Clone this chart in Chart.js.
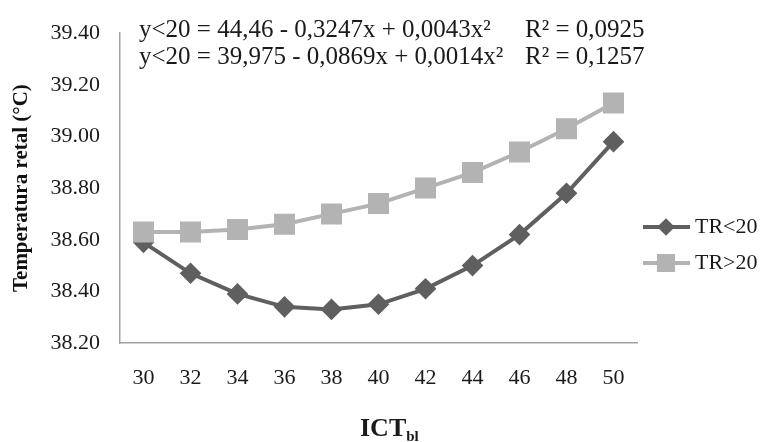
<!DOCTYPE html>
<html>
<head>
<meta charset="utf-8">
<script src="https://cdn.jsdelivr.net/npm/chart.js@4.4.0/dist/chart.umd.min.js"></script>
<style>
html, body { margin: 0; padding: 0; background: #fff; }
</style>
</head>
<body>
<canvas id="tempChart" width="763" height="442"></canvas>
<script>
// values
const categories = ['30', '32', '34', '36', '38', '40', '42', '44', '46', '48', '50'];
const trBelow20 = [38.59, 38.47, 38.39, 38.34, 38.33, 38.35, 38.41, 38.50, 38.62, 38.78, 38.98];
const trAbove20 = [38.63, 38.63, 38.64, 38.66, 38.70, 38.74, 38.80, 38.86, 38.94, 39.03, 39.13];
const seriesNames = ['TR<20', 'TR>20'];
const equations = ['y<20 = 44,46 - 0,3247x + 0,0043x²', 'y<20 = 39,975 - 0,0869x + 0,0014x²'];
const rSquared = ['R² = 0,0925', 'R² = 0,1257'];
const yTitle = 'Temperatura retal (°C)';

const serif = '"Liberation Serif", "Times New Roman", serif';
const darkGrey = '#5f5f5f';
const lightGrey = '#b3b3b3';

// equations, x title and legend (line + marker, Excel style)
const overlay = {
    id: 'overlay',
    afterDraw(chart) {
        const ctx = chart.ctx;
        ctx.save();
        ctx.fillStyle = '#1a1a1a';
        ctx.textAlign = 'left';
        ctx.textBaseline = 'alphabetic';
        ctx.font = '25px ' + serif;
        equations.forEach((eq, i) => {
            const y = 37 + i * 27;
            ctx.fillText(eq, 139, y);
            ctx.fillText(rSquared[i], 525, y);
        });

        ctx.font = 'bold 26px ' + serif;
        ctx.fillText('ICT', 360, 436);
        const w = ctx.measureText('ICT').width;
        ctx.font = 'bold 15px ' + serif;
        ctx.fillText('bl', 360 + w, 441);

        chart.data.datasets.forEach((ds, i) => {
            const y = 227 + i * 36;
            ctx.strokeStyle = ds.borderColor;
            ctx.fillStyle = ds.borderColor;
            ctx.lineWidth = 4;
            ctx.beginPath();
            ctx.moveTo(643, y);
            ctx.lineTo(690, y);
            ctx.stroke();
            Chart.helpers.drawPoint(ctx, {
                pointStyle: ds.pointStyle,
                radius: ds.pointStyle === 'rect' ? 10 : 6,
                rotation: 0,
                borderWidth: 1
            }, 666, y);
            ctx.fillStyle = '#1a1a1a';
            ctx.font = '22px ' + serif;
            ctx.textBaseline = 'middle';
            ctx.fillText(ds.label, 695, y);
            ctx.textBaseline = 'alphabetic';
        });
        ctx.restore();
    }
};

const ctx = document.getElementById('tempChart').getContext('2d');
const tempChart = new Chart(ctx, {
    type: 'line',
    data: {
        labels: categories,
        datasets: [{
            label: seriesNames[0],
            data: trBelow20,
            borderColor: darkGrey,
            backgroundColor: darkGrey,
            borderWidth: 4,
            pointStyle: 'rectRot',
            pointRadius: 8,
            pointBackgroundColor: darkGrey,
            pointBorderColor: darkGrey,
            tension: 0,
            order: 1
        }, {
            label: seriesNames[1],
            data: trAbove20,
            borderColor: lightGrey,
            backgroundColor: lightGrey,
            borderWidth: 4,
            pointStyle: 'rect',
            pointRadius: 12,
            pointBackgroundColor: lightGrey,
            pointBorderColor: lightGrey,
            tension: 0,
            order: 0
        }]
    },
    options: {
        responsive: false,
        animation: false,
        layout: { padding: { top: 27, right: 126, left: 0, bottom: 0 } },
        plugins: {
            legend: { display: false },
            tooltip: { enabled: false }
        },
        scales: {
            x: {
                offset: true,
                grid: { display: false, drawTicks: false },
                border: { display: true, color: '#a3a3a3', width: 1.5 },
                ticks: {
                    color: '#1a1a1a',
                    font: { family: serif, size: 22 },
                    padding: 22,
                    maxRotation: 0,
                    autoSkip: false
                },
                afterFit: (s) => { s.height = 99; }
            },
            y: {
                min: 38.2,
                max: 39.4,
                grid: { display: false, drawTicks: false },
                border: { display: true, color: '#a3a3a3', width: 1.5 },
                ticks: {
                    stepSize: 0.2,
                    color: '#1a1a1a',
                    font: { family: serif, size: 22 },
                    padding: 20,
                    callback: (v) => v.toFixed(2)
                },
                title: {
                    display: true,
                    text: yTitle,
                    color: '#111',
                    font: { family: serif, size: 21, weight: 'bold' },
                    padding: { top: 9, bottom: 0 }
                },
                afterFit: (s) => { s.width = 120; }
            }
        }
    },
    plugins: [overlay]
});
</script>
</body>
</html>
